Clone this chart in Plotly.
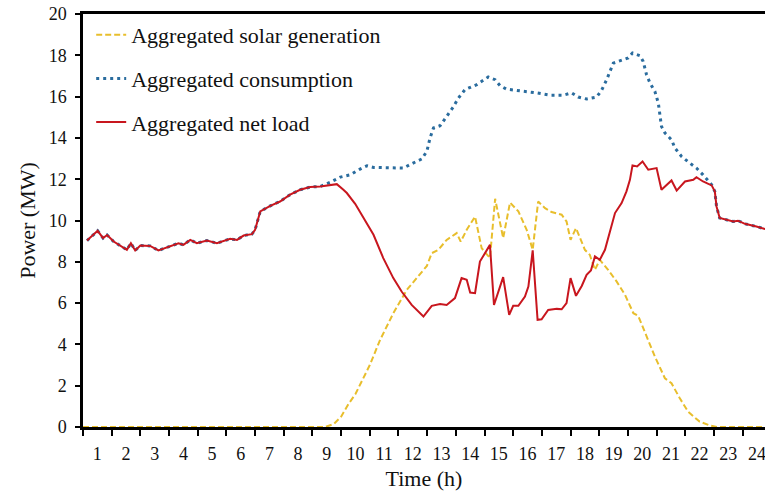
import plotly.graph_objects as go

# hours at which each curve was read, and the values (MW)
solar_hours = [0.0, 8.45, 8.75, 9.0, 9.25, 9.5, 9.75, 10.0, 10.36, 10.82, 11.29, 11.75, 11.99, 12.16,
               12.39, 12.68, 13.03, 13.17, 13.38, 13.67, 13.9, 14.19, 14.37, 14.65, 14.89, 15.18, 15.47,
               15.68, 15.87, 16.11, 16.34, 16.69, 16.86, 17.0, 17.19, 17.5, 17.67, 17.85, 18.02, 18.31,
               18.61, 18.9, 19.19, 19.36, 19.65, 19.94, 20.29, 20.52, 20.81, 21.1, 21.5, 21.85, 22.1, 24.0]
solar = [0, 0, 0.15, 0.5, 1.1, 1.6, 2.3, 3.0, 4.22, 5.51, 6.64, 7.37, 7.8, 8.42,
         8.58, 9.06, 9.39, 8.98, 9.55, 10.19, 8.66, 8.18, 11.05, 9.15, 10.87, 10.44, 9.55,
         8.58, 10.92, 10.6, 10.41, 10.28, 9.95, 9.06, 9.63, 8.58, 8.34, 7.61, 8.1, 7.61,
         7.04, 6.4, 5.51, 5.38, 4.4, 3.41, 2.36, 2.12, 1.39, 0.74, 0.26, 0.08, 0, 0]

cons_hours = [0.14, 0.51, 0.70, 0.84, 1.07, 1.42, 1.53, 1.67, 1.82, 2.00, 2.34, 2.63, 2.93, 3.33,
              3.50, 3.74, 3.97, 4.32, 4.67, 5.13, 5.37, 5.60, 5.89, 6.00, 6.18, 6.53, 6.87, 7.22,
              7.57, 7.92, 8.27, 8.62, 8.97, 9.31, 9.66, 9.90, 10.13, 10.65, 11.17, 11.46, 11.81,
              11.99, 12.10, 12.22, 12.45, 12.68, 12.91, 13.09, 13.32, 13.73, 14.13, 14.37, 14.54,
              14.77, 15.24, 15.82, 16.28, 16.75, 17.04, 17.27, 17.56, 17.91, 18.08, 18.26, 18.49,
              18.78, 19.01, 19.16, 19.42, 19.53, 19.65, 19.77, 19.94, 20.06, 20.12, 20.17, 20.29,
              20.52, 20.64, 20.87, 21.16, 21.39, 21.62, 21.92, 22.03, 22.09, 22.20, 22.44, 22.67,
              22.84, 23.08, 23.48, 23.77, 24.0]
consumption = [9.03, 9.5, 9.15, 9.3, 8.98, 8.66, 8.58, 8.9, 8.55, 8.79, 8.77, 8.55, 8.69, 8.9,
               8.82, 9.06, 8.9, 9.03, 8.9, 9.11, 9.06, 9.27, 9.34, 9.55, 10.44, 10.71, 10.92, 11.25,
               11.49, 11.62, 11.65, 11.85, 12.1, 12.21, 12.49, 12.65, 12.57, 12.57, 12.54, 12.75, 12.98,
               13.35, 13.99, 14.48, 14.59, 15.04, 15.5, 15.93, 16.34, 16.58, 16.95, 16.82, 16.53,
               16.36, 16.29, 16.18, 16.07, 16.07, 16.18, 15.98, 15.88, 15.98, 16.3, 16.82, 17.62,
               17.76, 17.87, 18.11, 17.98, 17.71, 17.06, 16.66, 16.25, 15.69, 15.04, 14.56, 14.24,
               13.91, 13.51, 13.1, 12.78, 12.54, 12.21, 11.73, 11.41, 10.68, 10.12, 10.03, 9.95,
               9.99, 9.84, 9.71, 9.58, 9.5]

net_hours = [0.14, 0.51, 0.70, 0.84, 1.07, 1.42, 1.53, 1.67, 1.82, 2.00, 2.34, 2.63, 2.93, 3.33,
             3.50, 3.74, 3.97, 4.32, 4.67, 5.13, 5.37, 5.60, 5.89, 6.00, 6.18, 6.53, 6.87, 7.22,
             7.57, 7.92, 8.27, 8.62, 8.85, 9.08, 9.20, 9.49, 9.78, 10.13, 10.47, 10.82, 11.11,
             11.46, 11.87, 12.16, 12.45, 12.68, 12.97, 13.20, 13.38, 13.50, 13.67, 13.84, 14.19,
             14.33, 14.65, 14.86, 15.00, 15.18, 15.41, 15.53, 15.68, 15.85, 15.99, 16.22, 16.52,
             16.69, 16.86, 17.00, 17.19, 17.39, 17.56, 17.71, 17.85, 18.02, 18.20, 18.37, 18.55,
             18.78, 18.95, 19.07, 19.16, 19.32, 19.51, 19.71, 20.00, 20.17, 20.52, 20.70, 20.99,
             21.28, 21.39, 21.62, 21.92, 22.03, 22.09, 22.20, 22.44, 22.67, 22.84, 23.08, 23.48,
             23.77, 24.0]
net_load = [9.03, 9.5, 9.15, 9.3, 8.98, 8.66, 8.58, 8.9, 8.55, 8.79, 8.77, 8.55, 8.69, 8.9,
            8.82, 9.06, 8.9, 9.03, 8.9, 9.11, 9.06, 9.27, 9.34, 9.55, 10.44, 10.71, 10.92, 11.25,
            11.49, 11.62, 11.65, 11.73, 11.76, 11.49, 11.33, 10.81, 10.12, 9.31, 8.18, 7.21, 6.56,
            5.91, 5.35, 5.87, 5.96, 5.91, 6.24, 7.21, 7.13, 6.51, 6.48, 8.01, 8.82,
            5.91, 7.26, 5.43, 5.87, 5.87, 6.32, 6.8, 8.55, 5.19, 5.22, 5.67, 5.72,
            5.7, 6.0, 7.21, 6.35, 6.83, 7.37, 7.58, 8.26, 8.1, 8.58, 9.39, 10.36,
            10.84, 11.41, 11.97, 12.67, 12.62, 12.86, 12.46, 12.54, 11.49, 11.94, 11.45, 11.89,
            11.97, 12.1, 11.89, 11.7, 11.41, 10.68, 10.12, 10.03, 9.95, 9.99, 9.84, 9.71,
            9.58, 9.5]

hour_labels = [str(h) for h in range(1, 25)]
label_pos = [h - 0.5 for h in range(1, 25)]
hour_edges = list(range(0, 25))
power_ticks = list(range(0, 21, 2))

FONT = "Liberation Serif"

fig = go.Figure()
fig.add_trace(go.Scatter(x=solar_hours, y=solar, mode="lines", name="Aggregated solar generation",
                         legendgroup="a", line=dict(color="#E8BE2C", width=2, dash="6px,3px")))
fig.add_trace(go.Scatter(x=cons_hours, y=consumption, mode="lines", name="Aggregated consumption",
                         legendgroup="b", line=dict(color="#2A6C9E", width=3, dash="3px,4px")))
fig.add_trace(go.Scatter(x=net_hours, y=net_load, mode="lines", name="Aggregated net load",
                         legendgroup="c", line=dict(color="#C8161E", width=2)))

fig.update_layout(
    width=765, height=493,
    margin=dict(l=83, r=0, t=14, b=66),
    paper_bgcolor="white", plot_bgcolor="white",
    font=dict(family=FONT, size=18, color="#111"),
    legend=dict(x=0.012, y=1.0, xanchor="left", yanchor="top", bgcolor="rgba(0,0,0,0)",
                font=dict(family=FONT, size=22), tracegroupgap=12),
    xaxis=dict(
        range=[0, 23.78], tickmode="array", tickvals=label_pos, ticktext=hour_labels,
        ticks="", showgrid=False, zeroline=False, showline=True, linecolor="black",
        linewidth=2.5, mirror=True, layer="below traces", ticklabelstandoff=9,
        automargin=False, ticklabeloverflow="allow",
        minor=dict(tickmode="array", tickvals=hour_edges, ticks="outside", ticklen=6,
                   tickwidth=2, tickcolor="black", showgrid=False),
        title=dict(text="Time (h)", font=dict(family=FONT, size=22), standoff=8),
    ),
    yaxis=dict(
        range=[0, 20], tickmode="array", tickvals=power_ticks, ticks="outside", ticklen=5,
        tickwidth=2, tickcolor="black", showgrid=False, zeroline=False, showline=True,
        linecolor="black", linewidth=2.5, ticklabelstandoff=5, automargin=False,
        ticklabeloverflow="allow",
        title=dict(text="Power (MW)", font=dict(family=FONT, size=22), standoff=7),
    ),
)

# drop the browser's default 8px body margin so the figure sits at the window corner
fig.write_html("out.html", config={"displayModeBar": False},
               post_script="document.body.style.margin = '0px';")
